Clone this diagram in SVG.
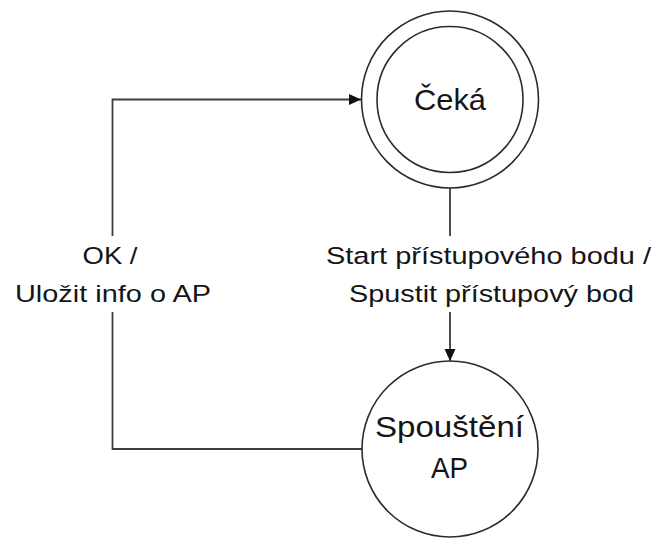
<svg xmlns="http://www.w3.org/2000/svg" width="662" height="538" viewBox="0 0 662 538">
  <style>
    .state { fill: #ffffff; stroke: #2b2b2b; stroke-width: 1.6; }
    .edge { fill: none; stroke: #3c3c3c; stroke-width: 1.8; }
    .name { font-family: "Liberation Sans", Arial, sans-serif; font-size: 29px; fill: #151515; }
    .label { font-family: "Liberation Sans", Arial, sans-serif; font-size: 24.5px; fill: #151515; }
    .label-bg { fill: #ffffff; stroke: none; }
  </style>
  <defs>
    <marker id="arrow" markerUnits="userSpaceOnUse" markerWidth="13" markerHeight="12" refX="12" refY="5.5" orient="auto">
      <path d="M0,0 L12,5.5 L0,11 z" fill="#111111"/>
    </marker>
  </defs>

  <rect width="662" height="538" fill="#ffffff"/>

  <!-- transitions -->
  <g id="connectors">
    <path id="edge-start" class="edge" d="M450,187 V361" marker-end="url(#arrow)"/>
    <path id="edge-ok" class="edge" d="M362,449 H112.5 V99.5 H361" marker-end="url(#arrow)"/>
  </g>

  <!-- transition labels -->
  <g id="label-ok">
    <rect class="label-bg" x="10" y="236" width="208" height="76"/>
    <text class="label" x="82.5" y="264" textLength="55" lengthAdjust="spacingAndGlyphs">OK /</text>
    <text class="label" x="15" y="302" textLength="196" lengthAdjust="spacingAndGlyphs">Uložit info o AP</text>
  </g>
  <g id="label-start">
    <rect class="label-bg" x="320" y="236" width="338" height="76"/>
    <text class="label" x="326" y="264" textLength="325" lengthAdjust="spacingAndGlyphs">Start přístupového bodu /</text>
    <text class="label" x="349" y="302" textLength="285" lengthAdjust="spacingAndGlyphs">Spustit přístupový bod</text>
  </g>

  <!-- states -->
  <g id="state-ceka">
    <circle class="state" cx="450" cy="99.5" r="88.5"/>
    <circle class="state" cx="450" cy="99.5" r="73"/>
    <text class="name" x="414" y="110" textLength="72" lengthAdjust="spacingAndGlyphs">Čeká</text>
  </g>
  <g id="state-spousteni">
    <circle class="state" cx="450" cy="449" r="88"/>
    <text class="name" x="375" y="437" textLength="149" lengthAdjust="spacingAndGlyphs">Spouštění</text>
    <text class="name" x="431" y="478" textLength="37" lengthAdjust="spacingAndGlyphs">AP</text>
  </g>
</svg>
